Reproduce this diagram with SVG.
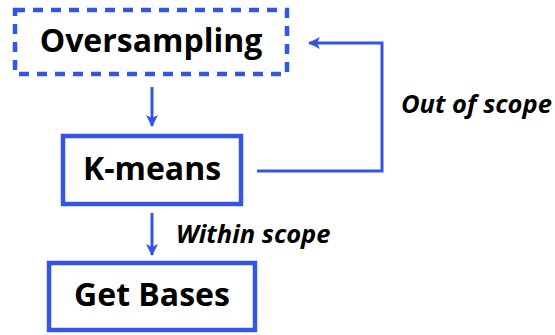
<svg xmlns="http://www.w3.org/2000/svg" width="555" height="335" viewBox="0 0 555 335">
<style>
.box{fill:#fff;stroke:#3456e2;stroke-width:4.5}
.dash{stroke-dasharray:10 8}
.lbl{font-family:"Open Sans","Noto Sans",sans-serif;font-weight:bold;font-size:32px;fill:#000;text-anchor:middle}
.edge{font-family:"Open Sans","Noto Sans",sans-serif;font-weight:bold;font-style:italic;font-size:25.5px;fill:#000}
.con{fill:none;stroke:#3456e2;stroke-width:3}
</style>
<defs>
<marker id="ah" markerWidth="12" markerHeight="12" refX="11" refY="6" orient="auto" markerUnits="userSpaceOnUse">
<path d="M0,0 L12,6 L0,12 L3,6 Z" fill="#3456e2"/>
</marker>
</defs>
<rect width="555" height="335" fill="#fff"/>
<g id="connectors">
<line class="con" x1="152" y1="87" x2="152" y2="126" marker-end="url(#ah)"/>
<line class="con" x1="152" y1="213" x2="152" y2="255" marker-end="url(#ah)"/>
<polyline class="con" points="257,171 382,171 382,43 309,43" marker-end="url(#ah)"/>
<text class="edge" x="176" y="243">Within scope</text>
<text class="edge" x="401" y="113">Out of scope</text>
</g>
<g id="oversampling">
<rect class="box dash" x="15" y="10" width="272" height="64"/>
<text class="lbl" x="151" y="52">Oversampling</text>
</g>
<g id="kmeans">
<rect class="box" x="63" y="136" width="178" height="68"/>
<text class="lbl" x="152" y="180">K-means</text>
</g>
<g id="getbases">
<rect class="box" x="49" y="263" width="206" height="67"/>
<text class="lbl" x="152" y="306">Get Bases</text>
</g>
</svg>
